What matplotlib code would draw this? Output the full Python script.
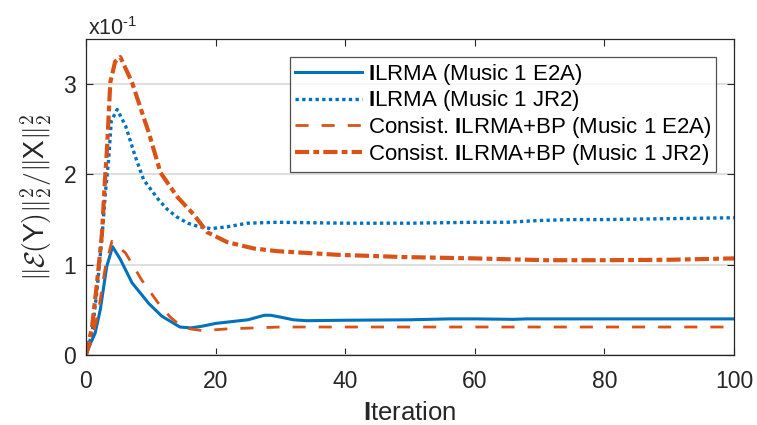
import matplotlib
matplotlib.use('Agg')
import matplotlib.pyplot as plt

plt.rcParams['font.family'] = ['Liberation Sans', 'DejaVu Sans']
plt.rcParams['mathtext.fontset'] = 'custom'
plt.rcParams['mathtext.rm'] = 'Liberation Sans'
plt.rcParams['mathtext.it'] = 'Liberation Sans:italic'
plt.rcParams['mathtext.bf'] = 'Liberation Sans:bold'

# values in units of 1e-1
it_e2a = [0, 0.7, 1.4, 2.2, 3.2, 4.1, 5.3, 7.1, 9.7, 11.7, 14.5, 16.2, 18, 20, 22.5, 25,
          26.5, 27.5, 28.5, 30, 32, 34, 40, 50, 56, 60, 66, 68, 80, 100]
ilrma_e2a = [0, 0.13, 0.24, 0.50, 0.98, 1.20, 1.06, 0.80, 0.57, 0.43, 0.31, 0.30, 0.32, 0.35,
             0.37, 0.39, 0.42, 0.44, 0.44, 0.42, 0.39, 0.38, 0.385, 0.39, 0.40, 0.40, 0.395,
             0.40, 0.40, 0.40]

it_jr2 = [0, 0.93, 1.7, 2.47, 3.0, 3.5, 3.9, 4.8, 6.1, 7.6, 8.9, 11.2, 12.6, 14, 15.7, 17.5,
          19.3, 21.8, 24.9, 29.5, 40, 50, 60, 65, 70, 75, 80, 90, 100]
ilrma_jr2 = [0, 0.24, 0.72, 1.31, 1.80, 2.17, 2.59, 2.72, 2.54, 2.20, 1.94, 1.72, 1.61, 1.53,
             1.46, 1.42, 1.40, 1.42, 1.46, 1.47, 1.46, 1.46, 1.47, 1.47, 1.49, 1.50, 1.50,
             1.51, 1.52]

it_bp_e2a = [0, 0.93, 1.95, 3.0, 4.0, 6.1, 8.6, 11.2, 13, 14.5, 16, 18, 20, 22, 26, 30, 40,
             60, 80, 100]
bp_e2a = [0, 0.17, 0.50, 0.98, 1.26, 1.13, 0.83, 0.57, 0.42, 0.33, 0.29, 0.27, 0.28, 0.29,
          0.30, 0.31, 0.31, 0.31, 0.31, 0.31]

it_bp_jr2 = [0, 0.93, 1.7, 2.47, 2.9, 3.24, 3.75, 4.5, 5.3, 7.1, 9.7, 11.5, 14.1, 16.7, 18.7,
             21.8, 25.9, 29.5, 38.8, 49, 60, 71, 80, 90, 100]
bp_jr2 = [0, 0.31, 0.80, 1.35, 1.91, 2.28, 3.02, 3.25, 3.30, 3.02, 2.46, 2.02, 1.75, 1.55,
          1.36, 1.25, 1.18, 1.15, 1.11, 1.085, 1.07, 1.05, 1.05, 1.055, 1.07]

labels = [r'$\mathbf{I}$LRMA (Music 1 E2A)',
          r'$\mathbf{I}$LRMA (Music 1 JR2)',
          r'Consist. $\mathbf{I}$LRMA+BP (Music 1 E2A)',
          r'Consist. $\mathbf{I}$LRMA+BP (Music 1 JR2)']

blue = '#0072BD'
orange = '#D95319'
axcol = '#262626'

fig = plt.figure(figsize=(7.57, 4.25), dpi=100)
ax = fig.add_axes([0.1136, 0.1647, 0.856, 0.7435])

ax.plot(it_e2a, ilrma_e2a, color=blue, lw=2.2, label=labels[0])
ax.plot(it_jr2, ilrma_jr2, color=blue, lw=2.4, dashes=(1, 1), label=labels[1])
ax.plot(it_bp_e2a, bp_e2a, color=orange, lw=2.0, dashes=(4.7, 4.7), label=labels[2])
ax.plot(it_bp_jr2, bp_jr2, color=orange, lw=3.0, dashes=(3.4, 1.0, 1.4, 1.0), label=labels[3])

ax.set_xlim(0, 100)
ax.set_ylim(0, 3.5)
ax.set_xticks([0, 20, 40, 60, 80, 100])
ax.set_yticks([0, 1, 2, 3])
ax.yaxis.grid(True, color='#dcdcdc', lw=1.3)
ax.set_axisbelow(True)
ax.tick_params(direction='in', top=True, right=True, labelsize=16.5, colors=axcol,
               length=5, width=0.8, pad=7)
ax.tick_params(axis='x', pad=10.5)
for sp in ax.spines.values():
    sp.set_color(axcol)
    sp.set_linewidth(0.9)

ax.set_xlabel(r'$\mathbf{I}$teration', fontsize=18.5, color=axcol, labelpad=6)
ylab = ax.set_ylabel(r'$\|\mathcal{E}(\mathsf{Y})\|_2^2/\|\mathsf{X}\|_2^2$', fontsize=20,
                     color=axcol, labelpad=7)
ylab.set_math_fontfamily('cm')
# exponent marker above the y axis
ax.text(0.003, 1.013, r'x10$^{\text{-}1}$', transform=ax.transAxes, fontsize=15.5,
        color=axcol, ha='left', va='baseline')

leg = ax.legend(loc='upper right', fontsize=16, frameon=True, fancybox=False,
                edgecolor=axcol, handlelength=3.0, handletextpad=0.25,
                borderaxespad=0.8, labelspacing=0.08, borderpad=0.22)
leg.get_frame().set_linewidth(0.9)

fig.savefig('out.png', dpi=100)
